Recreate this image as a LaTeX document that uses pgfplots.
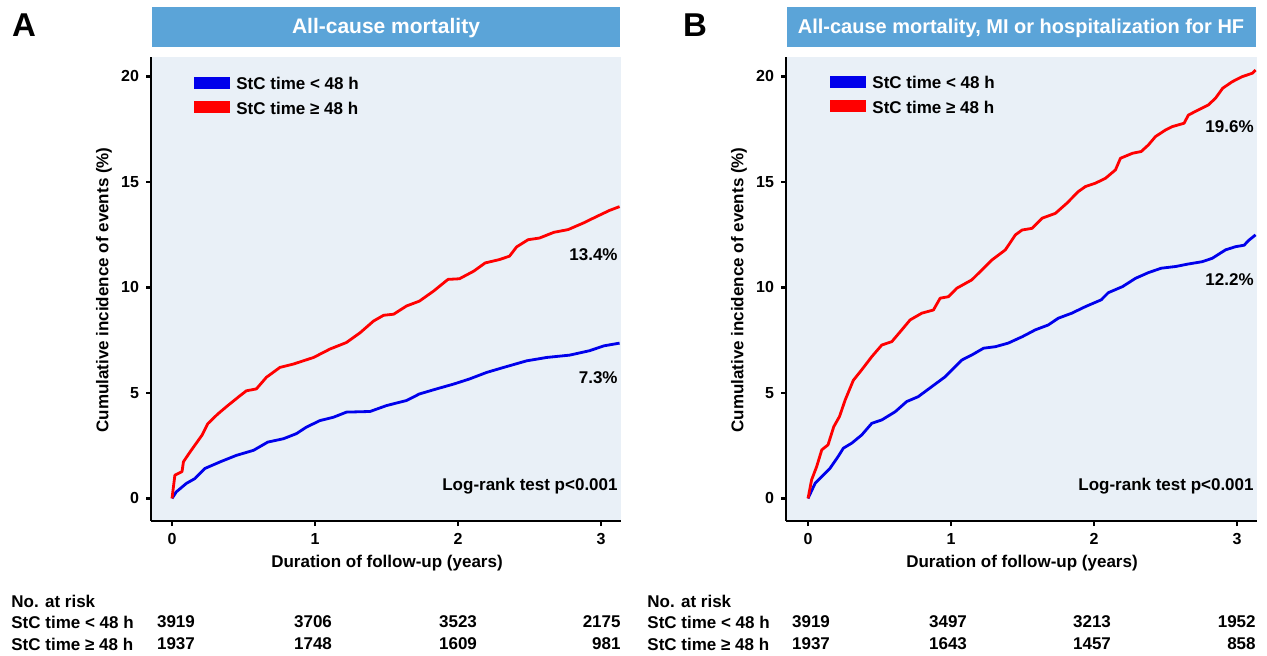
\documentclass[border=0pt]{standalone}
\usepackage{fontspec}
\setmainfont{Liberation Sans}
\usepackage{pgfplots}
\pgfplotsset{compat=1.18}
\definecolor{titleblue}{RGB}{91,164,216}
\definecolor{panelbg}{RGB}{233,240,247}
\definecolor{kmblue}{RGB}{0,0,235}
\definecolor{kmred}{RGB}{255,0,0}
\newcommand{\fs}[1]{\fontsize{#1}{#1}\selectfont}
\pgfplotsset{kmaxis/.style={
  scale only axis, width=235pt, height=232pt,
  axis lines=left,
  x axis line style={-, line width=1.1pt, black},
  y axis line style={-, line width=1.1pt, black},
  ymin=-1.07, ymax=20.92,
  xtick={0,1,2,3}, ytick={0,5,10,15,20},
  tick align=outside, major tick length=2.5pt,
  tick style={line width=1.1pt, black},
  ticklabel style={font=\bfseries\fs{8}},
  /pgf/number format/assume math mode=true,
  axis background/.style={fill=panelbg},
  every axis plot/.append style={line width=1.4pt, line join=round},
}}
\begin{document}
\begin{tikzpicture}[x=0.5pt,y=-0.5pt]
\path[use as bounding box] (0,0) rectangle (1267,656);
% ---------------- Panel A
\begin{axis}[kmaxis, at={(75.5pt,-260.5pt)}, anchor=south west, xmin=-0.147, xmax=3.14]
\addplot[kmblue] coordinates {
(0,0) (0.03,0.31) (0.10,0.71) (0.16,0.94) (0.23,1.42) (0.336,1.73) (0.45,2.04)
(0.57,2.28) (0.67,2.67) (0.78,2.83) (0.87,3.07) (0.94,3.38) (1.035,3.69)
(1.13,3.85) (1.22,4.09) (1.385,4.12) (1.50,4.4) (1.64,4.64) (1.73,4.95)
(1.85,5.19) (1.97,5.42) (2.08,5.66) (2.2,5.97) (2.32,6.21) (2.48,6.52)
(2.62,6.68) (2.78,6.79) (2.92,7.0) (3.02,7.23) (3.13,7.36)};
\addplot[kmred] coordinates {
(0,0) (0.02,1.1) (0.07,1.27) (0.08,1.74) (0.126,2.2) (0.21,3.0) (0.25,3.54)
(0.32,4.0) (0.39,4.4) (0.476,4.87) (0.52,5.1) (0.59,5.19) (0.66,5.74)
(0.755,6.21) (0.85,6.37) (0.99,6.68) (1.105,7.08) (1.22,7.39) (1.315,7.85)
(1.41,8.41) (1.48,8.68) (1.55,8.73) (1.64,9.12) (1.73,9.35) (1.83,9.83)
(1.93,10.38) (2.01,10.41) (2.11,10.77) (2.19,11.16) (2.29,11.32) (2.36,11.48)
(2.41,11.92) (2.49,12.26) (2.57,12.34) (2.67,12.61) (2.77,12.74) (2.876,13.05)
(2.97,13.36) (3.06,13.65) (3.13,13.83)};
\end{axis}
% ---------------- Panel B
\begin{axis}[kmaxis, at={(393pt,-260.5pt)}, anchor=south west, width=235.5pt, xmin=-0.154, xmax=3.14]
\addplot[kmblue] coordinates {
(0,0) (0.05,0.72) (0.096,1.03) (0.154,1.43) (0.21,1.98) (0.247,2.38) (0.306,2.62)
(0.376,3.01) (0.446,3.56) (0.516,3.72) (0.61,4.11) (0.69,4.59) (0.77,4.82)
(0.866,5.3) (0.96,5.77) (1.006,6.09) (1.076,6.56) (1.146,6.8) (1.228,7.12)
(1.31,7.19) (1.40,7.36) (1.50,7.67) (1.59,7.99) (1.68,8.22) (1.75,8.54)
(1.845,8.78) (1.94,9.09) (2.05,9.41) (2.10,9.75) (2.2,10.04) (2.29,10.43)
(2.38,10.7) (2.47,10.91) (2.57,10.99) (2.66,11.11) (2.757,11.22) (2.827,11.38)
(2.92,11.78) (2.99,11.93) (3.05,12.0) (3.08,12.22) (3.13,12.49)};
\addplot[kmred] coordinates {
(0,0) (0.025,0.88) (0.06,1.5) (0.096,2.3) (0.14,2.54) (0.18,3.4) (0.22,3.88)
(0.26,4.67) (0.317,5.6) (0.375,6.09) (0.446,6.72) (0.516,7.27) (0.586,7.43)
(0.656,7.99) (0.714,8.46) (0.796,8.78) (0.877,8.93) (0.924,9.49) (0.982,9.56)
(1.04,9.96) (1.146,10.36) (1.216,10.83) (1.286,11.3) (1.38,11.78) (1.45,12.49)
(1.497,12.72) (1.567,12.8) (1.637,13.28) (1.73,13.51) (1.81,13.99) (1.89,14.54)
(1.94,14.78) (2.01,14.94) (2.08,15.17) (2.15,15.57) (2.185,16.12) (2.27,16.36)
(2.33,16.44) (2.38,16.75) (2.43,17.15) (2.5,17.46) (2.547,17.62) (2.63,17.78)
(2.66,18.17) (2.73,18.41) (2.80,18.65) (2.85,18.97) (2.90,19.44) (2.967,19.75)
(3.037,19.99) (3.107,20.15) (3.13,20.3)};
\end{axis}
% ---------------- Titles and panel letters
\fill[titleblue] (152,7) rectangle (620,47);
\fill[titleblue] (787,7) rectangle (1256,47);
\node[text=white, font=\bfseries\fs{10.5}] at (386,28) {All-cause mortality};
\node[text=white, font=\bfseries\fs{10}] at (1021,28) {All-cause mortality, MI or hospitalization for HF};
\node[font=\bfseries\fs{16.5}] at (24,25) {A};
\node[font=\bfseries\fs{16.5}] at (695,25) {B};
% ---------------- Axis labels
\node[rotate=90, font=\bfseries\fs{8.5}] at (104,290) {Cumulative incidence of events (\%)};
\node[rotate=90, font=\bfseries\fs{8.5}] at (739,290) {Cumulative incidence of events (\%)};
\node[font=\bfseries\fs{8.5}] at (387,563) {Duration of follow-up (years)};
\node[font=\bfseries\fs{8.5}] at (1022,563) {Duration of follow-up (years)};
% ---------------- Legends
\fill[kmblue] (194,77) rectangle (230,89);
\fill[kmred] (194,101) rectangle (230,113);
\node[anchor=west, inner sep=0pt, font=\bfseries\fs{8.5}] at (236,83) {StC time < 48 h};
\node[anchor=west, inner sep=0pt, font=\bfseries\fs{8.5}] at (236,108) {StC time ≥ 48 h};
\fill[kmblue] (830,76) rectangle (866,88);
\fill[kmred] (830,100) rectangle (866,112);
\node[anchor=west, inner sep=0pt, font=\bfseries\fs{8.5}] at (872,82) {StC time < 48 h};
\node[anchor=west, inner sep=0pt, font=\bfseries\fs{8.5}] at (872,107) {StC time ≥ 48 h};
% ---------------- Annotations
\begin{scope}[every node/.style={anchor=east, inner sep=0pt, font=\bfseries\fs{8.5}}]
\node at (618,255) {13.4\%};
\node at (618,378) {7.3\%};
\node at (618,486) {Log-rank test p<0.001};
\node at (1254,127) {19.6\%};
\node at (1254,280) {12.2\%};
\node at (1254,486) {Log-rank test p<0.001};
\end{scope}
% ---------------- Risk tables
\begin{scope}[every node/.style={inner sep=0pt, font=\bfseries\fs{8.5}}]
\node[anchor=west] at (11,601) {No. at risk};
\node[anchor=west] at (11,622) {StC time < 48 h};
\node[anchor=west] at (11,644) {StC time ≥ 48 h};
\node at (176,622) {3919}; \node at (313,622) {3706}; \node at (458,622) {3523}; \node[anchor=east] at (621,622) {2175};
\node at (176,644) {1937}; \node at (313,644) {1748}; \node at (458,644) {1609}; \node[anchor=east] at (621,644) {981};
\node[anchor=west] at (647,601) {No. at risk};
\node[anchor=west] at (647,622) {StC time < 48 h};
\node[anchor=west] at (647,644) {StC time ≥ 48 h};
\node at (811,622) {3919}; \node at (948,622) {3497}; \node at (1092,622) {3213}; \node[anchor=east] at (1256,622) {1952};
\node at (811,644) {1937}; \node at (948,644) {1643}; \node at (1092,644) {1457}; \node[anchor=east] at (1256,644) {858};
\end{scope}
\end{tikzpicture}
\end{document}
